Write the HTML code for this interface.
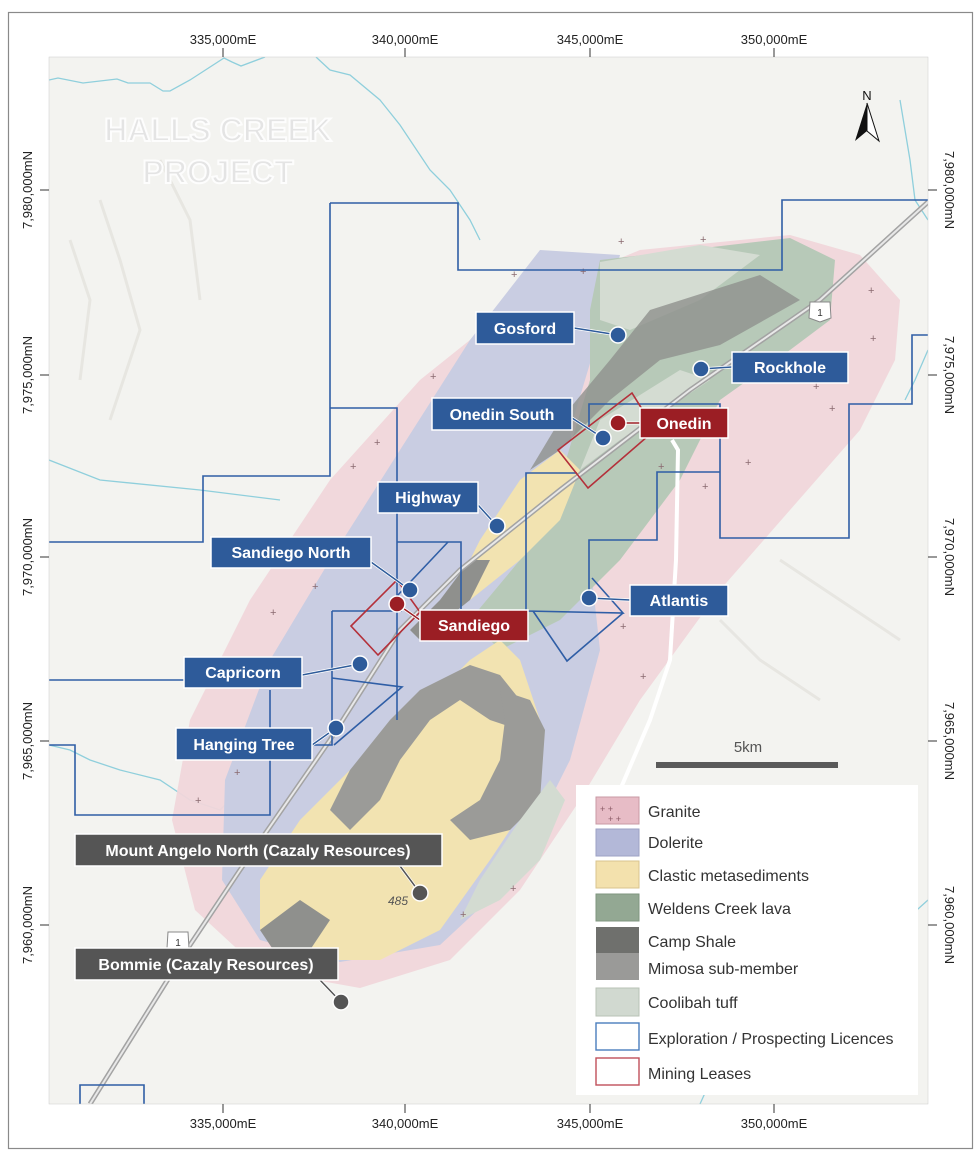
<!DOCTYPE html>
<html><head><meta charset="utf-8"><style>
html,body{margin:0;padding:0;background:#fff;}
svg{display:block;}
text{font-family:"Liberation Sans",sans-serif;}
</style></head><body>
<svg width="980" height="1159" viewBox="0 0 980 1159" xmlns="http://www.w3.org/2000/svg">
<rect x="0" y="0" width="980" height="1159" fill="#fff"/>
<rect x="8.5" y="12.5" width="964" height="1136" fill="none" stroke="#8a8a8a" stroke-width="1.2"/>
<defs><clipPath id="m"><rect x="49" y="57" width="879" height="1047"/></clipPath></defs>
<g clip-path="url(#m)">
<rect x="49" y="57" width="879" height="1047" fill="#f3f3f0"/>
<g fill="none" stroke="#e0ded8" stroke-width="3" opacity="0.6">
<path d="M100 200 L120 260 L140 330 L110 420"/><path d="M160 160 L190 220 L200 300"/><path d="M70 240 L90 300 L80 380"/>
<path d="M780 560 L840 600 L900 640"/><path d="M720 620 L760 660 L820 700"/>
</g>
<g fill="none" stroke="#8fcfdc" stroke-width="1.3">
<path d="M49 80 L58 78 L83 83 L117 79 L128 83 L150 83 L163 91 L170 91 L190 80 L224 58 L232 62 L241 66 L265 57"/>
<path d="M316 57 L330 70 L350 75 L380 100 L400 125 L430 170 L450 190 L470 220 L480 240"/>
<path d="M900 100 L905 130 L910 160 L915 200 L928 220"/>
<path d="M49 745 L70 750 L90 760 L120 770 L160 780 L190 800 L220 810 L260 770 L300 760 L330 760"/>
<path d="M49 460 L100 480 L200 490 L280 500"/>
<path d="M700 1104 L720 1060 L760 1000 L800 980 L850 970 L928 900"/>
<path d="M928 350 L915 380 L905 400"/>
</g>
<path d="M790 235 L860 255 L900 300 L895 360 L860 430 L790 510 L720 590 L640 700 L580 800 L520 890 L450 960 L360 988 L260 970 L195 910 L172 820 L190 720 L250 600 L330 480 L420 380 L520 300 L640 250 Z" fill="#f0d6da" opacity="0.95"/>
<path d="M540 250 L620 255 L600 330 L570 430 L590 560 L600 650 L570 760 L510 880 L440 945 L340 962 L260 940 L222 880 L225 780 L270 660 L330 560 L400 450 L470 340 Z" fill="#c9cde2"/>
<path d="M600 260 L790 238 L835 260 L830 320 L790 350 L720 400 L680 480 L620 560 L560 620 L500 650 L470 620 L520 560 L560 480 L590 380 L590 310 Z" fill="#b7c9b8"/>
<path d="M600 262 L700 245 L760 255 L700 300 L630 330 L600 320 Z" fill="#d4dcd2"/>
<path d="M650 310 L760 275 L800 300 L720 345 L660 360 L610 400 L560 450 L530 470 L560 420 L610 360 Z" fill="#8e918d" opacity="0.8"/>
<path d="M600 420 L680 370 L710 380 L680 400 L620 440 L580 470 Z" fill="#d4dcd2"/>
<path d="M480 540 L520 480 L560 450 L580 470 L560 520 L520 560 L470 600 L440 620 Z" fill="#f2e3b1"/>
<path d="M380 740 L430 700 L470 660 L500 640 L520 660 L540 720 L530 800 L490 860 L440 930 L380 960 L300 960 L260 930 L260 880 L300 820 L340 780 Z" fill="#f2e3b1"/>
<path d="M390 720 L420 690 L470 665 L500 675 L520 700 L520 730 L490 720 L460 700 L430 720 L400 760 L380 800 L350 830 L330 810 L350 770 Z" fill="#9b9b98"/>
<path d="M500 690 L530 700 L545 730 L540 800 L510 830 L470 840 L450 820 L480 800 L500 760 L505 720 Z" fill="#9b9b98"/>
<path d="M260 930 L300 900 L330 920 L310 950 L280 960 Z" fill="#8f908d"/>
<path d="M420 640 L470 600 L490 560 L470 560 L440 600 L410 630 Z" fill="#8f908d"/>
<path d="M520 820 L550 780 L565 800 L540 860 L500 900 L460 920 L480 880 Z" fill="#d3dbd1"/>
<path d="M90 1104 L130 1040 L180 960 L240 870 L330 740 L400 630 L460 570 L560 490 L690 390 L820 300 L928 202" fill="none" stroke="#a3a3a3" stroke-width="5"/>
<path d="M90 1104 L130 1040 L180 960 L240 870 L330 740 L400 630 L460 570 L560 490 L690 390 L820 300 L928 202" fill="none" stroke="#e8e8e8" stroke-width="2"/>
<path d="M672 440 L678 450 L676 560 L670 660 L650 720 L620 790" fill="none" stroke="#ffffff" stroke-width="4"/>
<g fill="#8a6a70" font-size="11">
<text x="618" y="245">+</text><text x="700" y="243">+</text><text x="511" y="278">+</text><text x="580" y="275">+</text><text x="868" y="294">+</text><text x="870" y="342">+</text><text x="813" y="390">+</text><text x="829" y="412">+</text><text x="745" y="466">+</text><text x="702" y="490">+</text><text x="658" y="470">+</text><text x="430" y="380">+</text><text x="374" y="446">+</text><text x="350" y="470">+</text><text x="312" y="590">+</text><text x="270" y="616">+</text><text x="234" y="776">+</text><text x="195" y="804">+</text><text x="460" y="918">+</text><text x="510" y="892">+</text><text x="620" y="630">+</text><text x="640" y="680">+</text></g>
<g fill="none" stroke="#2f5ea6" stroke-width="1.6">
<path d="M330 203 L458 203 L458 270 L782 270 L782 200 L928 200"/>
<path d="M330 203 L330 476 L203 476 L203 542 L49 542"/>
<path d="M330 408 L397 408 L397 720"/>
<path d="M928 335 L912 335 L912 404 L849 404 L849 538 L720 538 L720 404 L589 404 L589 430"/>
<path d="M720 472 L657 472 L657 540 L589 540 L589 601"/>
<path d="M577 473 L526 473 L526 611 L623 613 L592 578"/>
<path d="M533 611 L567 661 L623 613"/>
<path d="M397 542 L461 542 L461 609"/>
<path d="M397 596 L448 542"/>
<path d="M332 611 L402 611"/>
<path d="M332 611 L332 745 L270 745 L270 815 L75 815 L75 745 L49 745"/>
<path d="M332 678 L402 687 L334 745"/>
<path d="M270 745 L270 690 M184 680 L49 680"/>
<path d="M80 1104 L80 1085 L144 1085 L144 1104"/>
</g>
<g fill="none" stroke="#b4303a" stroke-width="1.6">
<path d="M558 450 L632 393 L655 430 L588 488 Z"/>
<path d="M351 626 L397 580 L420 612 L378 655 Z"/>
</g>
<g font-size="32" font-weight="bold" fill="#e4e4e4" stroke="#fdfdfd" stroke-width="2" text-anchor="middle">
<text x="218" y="141">HALLS CREEK</text><text x="218" y="183">PROJECT</text></g>
<text x="867" y="100" font-size="13" text-anchor="middle" fill="#111">N</text>
<path d="M867 103 L855 141 L867 131 Z" fill="#111"/><path d="M867 103 L879 141 L867 131 Z" fill="#fff" stroke="#111"/>
<path d="M810 302 L830 302 L831 318 L820 322 L809 318 Z" fill="#fff" stroke="#888"/><text x="820" y="316" font-size="10" text-anchor="middle" fill="#333">1</text>
<path d="M168 932 L188 932 L189 948 L178 952 L167 948 Z" fill="#fff" stroke="#888"/><text x="178" y="946" font-size="10" text-anchor="middle" fill="#333">1</text>
<text x="388" y="905" font-size="12" font-style="italic" fill="#555">485</text>
<text x="748" y="752" font-size="15" text-anchor="middle" fill="#555">5km</text>
<rect x="656" y="762" width="182" height="6" fill="#5a5a5a"/>
<rect x="576" y="785" width="342" height="310" fill="#fff"/>
<g stroke-width="1">
<rect x="596" y="797" width="43" height="27" fill="#e7bcc6" stroke="#c89aa4"/>
<rect x="596" y="829" width="43" height="27" fill="#b3b8d8" stroke="#9da2c4"/>
<rect x="596" y="861" width="43" height="27" fill="#f3e1ad" stroke="#d8c48e"/>
<rect x="596" y="894" width="43" height="27" fill="#93a893" stroke="#7f967f"/>
<rect x="596" y="927" width="43" height="26" fill="#6f706d"/>
<rect x="596" y="953" width="43" height="27" fill="#9a9a98"/>
<rect x="596" y="988" width="43" height="28" fill="#d1d9d0" stroke="#b8c2b6"/>
<rect x="596" y="1023" width="43" height="27" fill="#fff" stroke="#4a7dbd" stroke-width="1.4"/>
<rect x="596" y="1058" width="43" height="27" fill="#fff" stroke="#c0505a" stroke-width="1.4"/>
</g>
<text x="600" y="812" font-size="9" fill="#8a5a66">+ +</text><text x="608" y="822" font-size="9" fill="#8a5a66">+ +</text>
<g font-size="16" fill="#333">
<text x="648" y="817">Granite</text><text x="648" y="848">Dolerite</text><text x="648" y="881">Clastic metasediments</text>
<text x="648" y="914">Weldens Creek lava</text><text x="648" y="947">Camp Shale</text><text x="648" y="974">Mimosa sub-member</text>
<text x="648" y="1008">Coolibah tuff</text><text x="648" y="1044">Exploration / Prospecting Licences</text><text x="648" y="1079">Mining Leases</text></g>
<g stroke="#fff" stroke-width="3" fill="none">
<path d="M574 328 L618 335 M732 367 L701 369 M572 418 L603 438 M640 423 L618 423 M478 505 L497 526 M371 562 L410 590 M420 620 L397 604 M630 600 L589 598 M302 675 L360 664 M312 745 L336 728 M400 866 L420 893 M320 980 L341 1002"/></g>
<g stroke="#2e5b9a" stroke-width="1.5" fill="none">
<path d="M574 328 L618 335 M732 367 L701 369 M572 418 L603 438 M478 505 L497 526 M371 562 L410 590 M630 600 L589 598 M302 675 L360 664 M312 745 L336 728"/></g>
<path d="M640 423 L618 423 M420 620 L397 604" stroke="#9b1e24" stroke-width="1.5"/>
<path d="M400 866 L420 893 M320 980 L341 1002" stroke="#555" stroke-width="1.5"/>
<g stroke="#fff" stroke-width="1.5">
<circle cx="618" cy="335" r="8" fill="#2e5b9a"/><circle cx="701" cy="369" r="8" fill="#2e5b9a"/><circle cx="603" cy="438" r="8" fill="#2e5b9a"/>
<circle cx="618" cy="423" r="8" fill="#9b1e24"/><circle cx="497" cy="526" r="8" fill="#2e5b9a"/><circle cx="410" cy="590" r="8" fill="#2e5b9a"/>
<circle cx="397" cy="604" r="8" fill="#9b1e24"/><circle cx="589" cy="598" r="8" fill="#2e5b9a"/><circle cx="360" cy="664" r="8" fill="#2e5b9a"/>
<circle cx="336" cy="728" r="8" fill="#2e5b9a"/><circle cx="420" cy="893" r="8" fill="#555"/><circle cx="341" cy="1002" r="8" fill="#555"/></g>
<g stroke="#fff" stroke-width="1.5">
<rect x="476" y="312" width="98" height="32" fill="#2e5b9a"/><rect x="732" y="352" width="116" height="31" fill="#2e5b9a"/>
<rect x="432" y="398" width="140" height="32" fill="#2e5b9a"/><rect x="640" y="408" width="88" height="30" fill="#9b1e24"/>
<rect x="378" y="482" width="100" height="31" fill="#2e5b9a"/><rect x="211" y="537" width="160" height="31" fill="#2e5b9a"/>
<rect x="420" y="610" width="108" height="31" fill="#9b1e24"/><rect x="630" y="585" width="98" height="31" fill="#2e5b9a"/>
<rect x="184" y="657" width="118" height="31" fill="#2e5b9a"/><rect x="176" y="728" width="136" height="32" fill="#2e5b9a"/>
<rect x="75" y="834" width="367" height="32" fill="#555"/><rect x="75" y="948" width="263" height="32" fill="#555"/></g>
<g font-size="16" font-weight="bold" fill="#fff" text-anchor="middle">
<text x="525" y="334">Gosford</text><text x="790" y="373">Rockhole</text><text x="502" y="420">Onedin South</text>
<text x="684" y="429">Onedin</text><text x="428" y="503">Highway</text><text x="291" y="558">Sandiego North</text>
<text x="474" y="631">Sandiego</text><text x="679" y="606">Atlantis</text><text x="243" y="678">Capricorn</text>
<text x="244" y="750">Hanging Tree</text><text x="258" y="856">Mount Angelo North (Cazaly Resources)</text><text x="206" y="970">Bommie (Cazaly Resources)</text></g>
</g>
<rect x="49" y="57" width="879" height="1047" fill="none" stroke="#ccc" stroke-width="0.5"/>
<g stroke="#333" stroke-width="1">
<path d="M223 48 V57 M405 48 V57 M590 48 V57 M774 48 V57 M223 1104 V1113 M405 1104 V1113 M590 1104 V1113 M774 1104 V1113"/>
<path d="M40 190 H49 M40 375 H49 M40 557 H49 M40 741 H49 M40 925 H49 M928 190 H937 M928 375 H937 M928 557 H937 M928 741 H937 M928 925 H937"/>
</g>
<g font-size="13" fill="#222" text-anchor="middle">
<text x="223" y="44">335,000mE</text><text x="405" y="44">340,000mE</text><text x="590" y="44">345,000mE</text><text x="774" y="44">350,000mE</text>
<text x="223" y="1128">335,000mE</text><text x="405" y="1128">340,000mE</text><text x="590" y="1128">345,000mE</text><text x="774" y="1128">350,000mE</text>
<text transform="translate(32 190) rotate(-90)">7,980,000mN</text><text transform="translate(32 375) rotate(-90)">7,975,000mN</text><text transform="translate(32 557) rotate(-90)">7,970,000mN</text><text transform="translate(32 741) rotate(-90)">7,965,000mN</text><text transform="translate(32 925) rotate(-90)">7,960,000mN</text>
<text transform="translate(945 190) rotate(90)">7,980,000mN</text><text transform="translate(945 375) rotate(90)">7,975,000mN</text><text transform="translate(945 557) rotate(90)">7,970,000mN</text><text transform="translate(945 741) rotate(90)">7,965,000mN</text><text transform="translate(945 925) rotate(90)">7,960,000mN</text>
</g>
</svg>
</body></html>
